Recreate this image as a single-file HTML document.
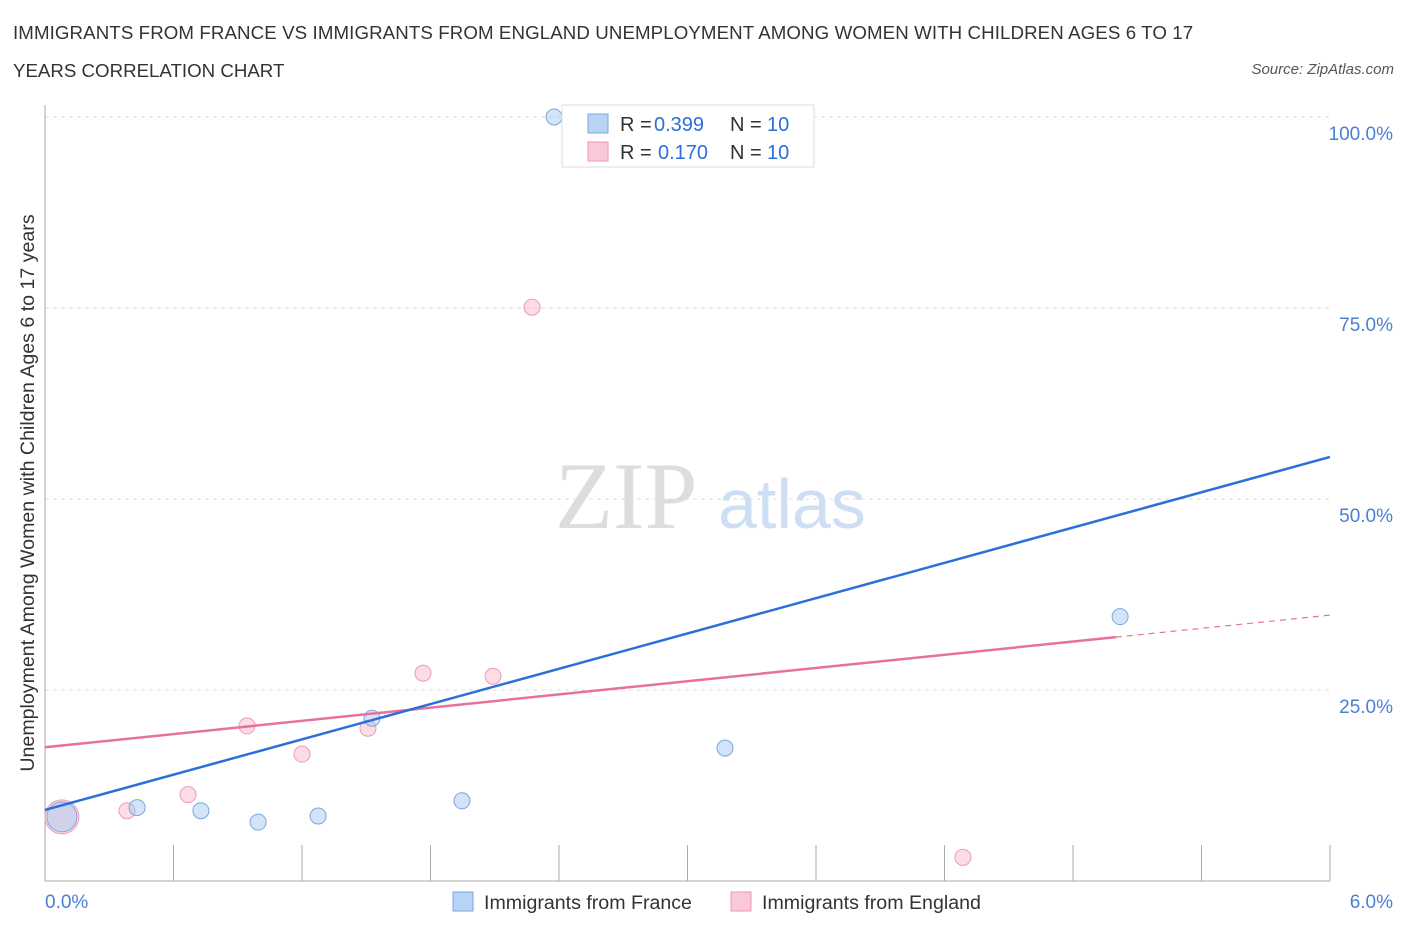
<!DOCTYPE html>
<html><head><meta charset="utf-8"><style>
body{margin:0;background:#fff;font-family:"Liberation Sans",sans-serif;}
#c{position:relative;width:1406px;height:930px;overflow:hidden;}
.t{position:absolute;color:#333;font-size:18.7px;}
</style></head><body>
<div id="c">
<div class="t" style="left:13px;top:22px;letter-spacing:0.1px;">IMMIGRANTS FROM FRANCE VS IMMIGRANTS FROM ENGLAND UNEMPLOYMENT AMONG WOMEN WITH CHILDREN AGES 6 TO 17</div>
<div class="t" style="left:13px;top:60px;">YEARS CORRELATION CHART</div>
<div class="t" style="right:12px;top:61px;font-size:15px;font-style:italic;color:#555;">Source: ZipAtlas.com</div>
<svg id="s" width="1406" height="930" style="position:absolute;left:0;top:0"></svg>
</div>
<script>
const xTicks=[0,0.6,1.2,1.8,2.4,3,3.6,4.2,4.8,5.4,6];
const yTicks=[25,50,75,100];
const franceX=[0.079,0.43,0.728,0.995,1.275,1.527,1.947,2.377,3.175,5.02];
const franceY=[8.4,9.6,9.2,7.7,8.5,21.3,10.5,100,17.4,34.6];
const englandX=[0.079,0.383,0.668,0.943,1.2,1.508,1.765,2.092,2.274,4.286];
const englandY=[8.4,9.2,11.3,20.3,16.6,20.0,27.2,26.8,75.1,3.1];
const franceTrend=[9.3,55.5];
const englandTrend=[17.5,34.8];
const englandSolidEnd=5.0;
const X=v=>45+v/6*1285, Y=v=>881-v/100*764;
const s=document.getElementById('s'),NS='http://www.w3.org/2000/svg';
function el(t,a,p){const e=document.createElementNS(NS,t);for(const k in a)e.setAttribute(k,a[k]);(p||s).appendChild(e);return e;}
let e;
e=el('text',{x:555,y:528,'font-size':95,fill:'#ddd','font-family':'Liberation Serif,serif'});e.textContent='ZIP';


e=el('text',{x:718,y:528,'font-size':70,fill:'#cfdff3','font-family':'Liberation Sans,sans-serif'});e.textContent='atlas';


yTicks.forEach(v=>{
 e=el('line',{x1:45,x2:1330,y1:Y(v),y2:Y(v),stroke:'#ddd','stroke-dasharray':'4,4'});
 
 
 e=el('text',{x:1393,y:Y(v)+23,'text-anchor':'end','font-size':19,fill:'#4a7fd4'});e.textContent=v.toFixed(1)+'%';
 
 
});
e=el('line',{x1:45,x2:45,y1:105,y2:881,stroke:'#aaa'});


e=el('line',{x1:45,x2:1330,y1:881,y2:881,stroke:'#aaa'});


xTicks.forEach(v=>{
 e=el('line',{x1:X(v),x2:X(v),y1:845,y2:881,stroke:'#aaa'});
 
 
});
e=el('text',{x:45,y:908,'font-size':19,fill:'#4a7fd4'});e.textContent='0.0%';


e=el('text',{x:1393,y:908,'text-anchor':'end','font-size':19,fill:'#4a7fd4'});e.textContent='6.0%';


e=el('text',{x:34,y:493,'text-anchor':'middle','font-size':19.6,fill:'#333',transform:'rotate(-90 34 493)'});e.textContent='Unemployment Among Women with Children Ages 6 to 17 years';


englandX.forEach((x,i)=>{
 e=el('circle',{cx:X(x),cy:Y(englandY[i]),r:i==0?17:8,fill:'rgba(248,180,200,0.45)',stroke:'#ef9ab4','stroke-width':1});
 
 
});
franceX.forEach((x,i)=>{
 e=el('circle',{cx:X(x),cy:Y(franceY[i]),r:i==0?15:8,fill:'rgba(160,195,240,0.45)',stroke:'#7aa6e0','stroke-width':1});
 
 
});
const ey=v=>englandTrend[0]+(englandTrend[1]-englandTrend[0])*v/6;
e=el('line',{x1:X(0),y1:Y(ey(0)),x2:X(englandSolidEnd),y2:Y(ey(englandSolidEnd)),stroke:'#e8719a','stroke-width':2.5});


e=el('line',{x1:X(englandSolidEnd),y1:Y(ey(englandSolidEnd)),x2:X(6),y2:Y(ey(6)),stroke:'#e8719a','stroke-width':1.2,'stroke-dasharray':'6,5'});


e=el('line',{x1:X(0),y1:Y(franceTrend[0]),x2:X(6),y2:Y(franceTrend[1]),stroke:'#2a70d8','stroke-width':2.5});


const g=el('g',{});


el('rect',{x:562,y:105,width:252,height:62,fill:'#fff',stroke:'#ddd'},g);
el('rect',{x:588,y:114,width:20,height:19,fill:'#b9d3f5',stroke:'#7aa6e0'},g);
el('rect',{x:588,y:142,width:20,height:19,fill:'#fac8d6',stroke:'#ef9ab4'},g);
[[131,'0.399'],[159,'0.170']].forEach(([y,r],i)=>{
 let t=el('text',{x:620,y:y,'font-size':20,fill:'#333'},g);t.textContent='R =';
 t=el('text',{x:i?658:654,y:y,'font-size':20,fill:'#2a70d8'},g);t.textContent=r;
 t=el('text',{x:730,y:y,'font-size':20,fill:'#333'},g);t.textContent='N =';
 t=el('text',{x:767,y:y,'font-size':20,fill:'#2a70d8'},g);t.textContent='10';
});
e=el('rect',{x:453,y:892,width:20,height:19,fill:'#b9d3f5',stroke:'#7aa6e0'});


e=el('text',{x:484,y:909,'font-size':19.6,fill:'#333'});e.textContent='Immigrants from France';


e=el('rect',{x:731,y:892,width:20,height:19,fill:'#fac8d6',stroke:'#ef9ab4'});


e=el('text',{x:762,y:909,'font-size':19.6,fill:'#333'});e.textContent='Immigrants from England';


</script>
</body></html>
